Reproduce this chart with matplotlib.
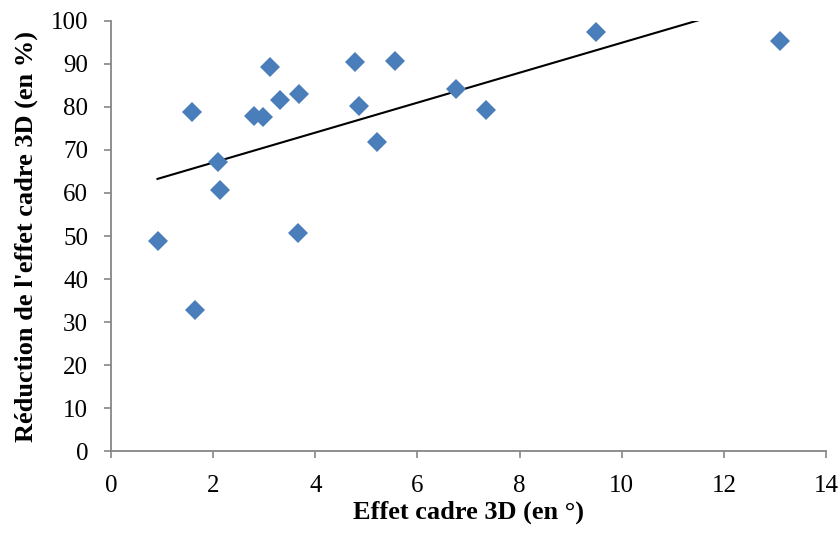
import numpy as np
import matplotlib.pyplot as plt

# effet cadre 3D (deg) et réduction correspondante (%)
effet = [0.91, 1.58, 1.64, 2.10, 2.13, 2.80, 2.97, 3.11, 3.30, 3.68,
         3.66, 4.78, 4.85, 5.57, 5.21, 6.76, 7.34, 9.50, 13.10]
reduction = [48.8, 78.9, 32.9, 67.1, 60.6, 78.0, 77.6, 89.3, 81.7, 83.0,
             50.6, 90.4, 80.3, 90.8, 71.8, 84.1, 79.4, 97.5, 95.3]

plt.rcParams['font.family'] = ['Liberation Serif', 'DejaVu Serif']

fig = plt.figure(figsize=(8.38, 5.34), dpi=100)
ax = fig.add_axes([0.1325, 0.1554, 0.8532, 0.8053])

ax.plot(effet, reduction, linestyle='none', marker='D', markersize=9.8,
        color='#4A7EBB', markeredgewidth=0, zorder=3)

# droite de tendance linéaire (moindres carrés)
a, b = np.polyfit(effet, reduction, 1)
xs = np.linspace(min(effet), max(effet), 200)
ax.plot(xs, a * xs + b, color='black', linewidth=1.5, zorder=2)

ax.set_xlim(0, 14)
ax.set_ylim(0, 100)
ax.set_xticks(range(0, 15, 2))
ax.set_yticks(range(0, 101, 10))

for side in ['top', 'right']:
    ax.spines[side].set_visible(False)
for side in ['left', 'bottom']:
    ax.spines[side].set_color('#868686')
    ax.spines[side].set_linewidth(1.3)
ax.tick_params(axis='both', direction='out', length=5, width=1.2,
               color='#868686', labelsize=18)
ax.tick_params(axis='x', pad=12)
ax.tick_params(axis='y', pad=11.5)

ax.set_xlabel('Effet cadre 3D (en °)', fontsize=19, fontweight='bold')
ax.set_ylabel("Réduction de l'effet cadre 3D (en %)", fontsize=19,
              fontweight='bold')
ax.xaxis.label.set_va('center')
ax.yaxis.label.set_va('center')
ax.xaxis.set_label_coords(0.5, -0.142)
ax.yaxis.set_label_coords(-0.119, 0.5)

fig.savefig('out.png', dpi=100)
